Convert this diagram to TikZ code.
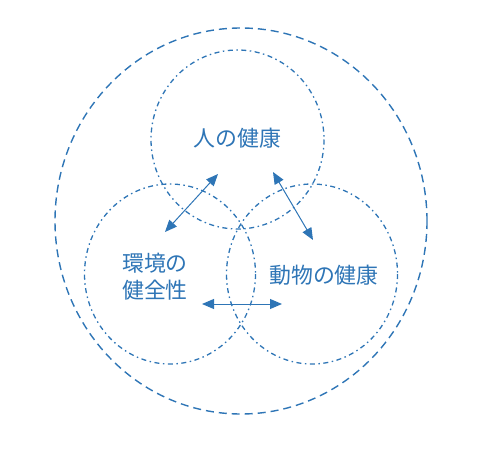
\documentclass[tikz,border=0pt]{standalone}
\usepackage{fontspec}
\newfontfamily\jp{Noto Sans CJK JP}
\usetikzlibrary{arrows.meta}
\definecolor{ob}{HTML}{2E75B6}
\begin{document}
\begin{tikzpicture}[x=1bp,y=-1bp,
  ring/.style={draw=ob,line width=1.3bp,dash pattern=on 5bp off 3.5bp on 1.5bp off 3.5bp},
  outer/.style={draw=ob,line width=1.4bp,dash pattern=on 8bp off 5bp},
  lab/.style={text=ob,font=\jp\fontsize{22}{27}\selectfont,align=left,inner sep=0},
  dbl/.style={draw=ob,line width=1bp,{Triangle[length=12bp,width=10bp]}-{Triangle[length=12bp,width=10bp]}}]
\useasboundingbox (0,0) rectangle (492,452);
\path[outer] (241,221) ellipse [x radius=186,y radius=193];
\path[ring] (237.5,139.5) ellipse [x radius=86.5,y radius=89.5];
\path[ring] (170,274) ellipse [x radius=85.5,y radius=90];
\path[ring] (312,274) ellipse [x radius=85.5,y radius=90];
\node[lab] (h) at (237.5,138) {人の健康};
\node[lab] (e) at (155,277) {環境の\\健全性};
\node[lab] (a) at (324,275) {動物の健康};
\coordinate (a1) at (165,232); \coordinate (a2) at (218,174);
\coordinate (b1) at (273,172); \coordinate (b2) at (313,240);
\coordinate (c1) at (202,304); \coordinate (c2) at (282,304);
\draw[dbl] (a1) -- (a2);
\draw[dbl] (b1) -- (b2);
\draw[dbl] (c1) -- (c2);
\end{tikzpicture}
\end{document}
